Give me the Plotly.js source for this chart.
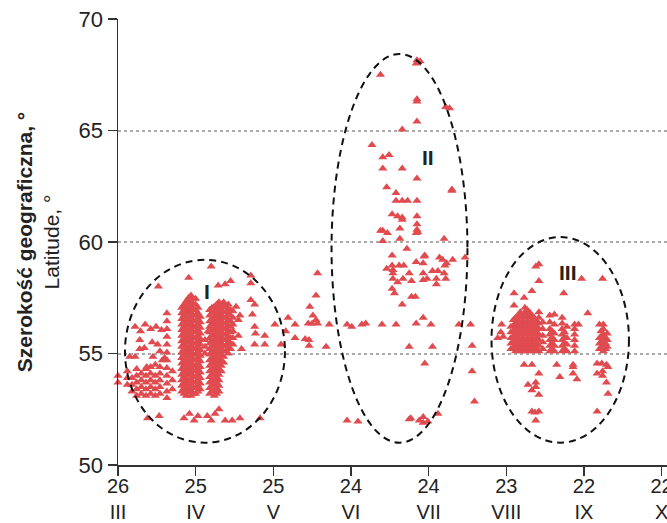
<!DOCTYPE html>
<html><head><meta charset="utf-8">
<script src="https://cdn.plot.ly/plotly-3.0.1.min.js"></script>
<style>html,body{margin:0;padding:0;background:#fff}#chart{width:667px;height:523px}</style>
</head><body><div id="chart"></div>
<script>
// x axis: month positions (III..X) with number labels
const tickPos = [3, 4, 5, 6, 7, 8, 9, 10];
const tickNum = ["26", "25", "25", "24", "24", "23", "22", "22"];
const tickMonth = ["III", "IV", "V", "VI", "VII", "VIII", "IX", "X"];
const latTicks = [50, 55, 60, 65, 70];

// Cluster I: dense columns [x, [latitudes]]
const colsI = [
  [3.12, [53.6, 53.9, 54.2]],
  [3.18, [53.3, 53.6, 53.9]],
  [3.24, [53.1, 53.4, 53.7, 54.0, 54.3]],
  [3.30, [53.2, 53.5, 53.8, 54.1]],
  [3.36, [53.1, 53.4, 53.7, 54.0, 54.3]],
  [3.42, [53.2, 53.5, 53.8, 54.1, 54.4]],
  [3.48, [53.1, 53.4, 53.7, 54.0]],
  [3.54, [53.2, 53.5, 53.8, 54.1, 54.4]],
  [3.63, [56.8, 56.45, 56.1, 55.75, 55.4, 55.05, 54.7, 54.35, 54.0, 53.65, 53.3, 53.0]],
  [3.70, [53.4, 53.8, 54.2]],
  [3.82, [53.3, 53.55, 53.8, 54.05, 54.3, 54.55, 54.8, 55.05, 55.3, 55.55, 55.8, 56.05, 56.3, 56.55, 56.8, 57.05]],
  [3.85, [53.2, 53.45, 53.7, 53.95, 54.2, 54.45, 54.7, 54.95, 55.2, 55.45, 55.7, 55.95, 56.2, 56.45, 56.7, 56.95, 57.2]],
  [3.88, [53.1, 53.35, 53.6, 53.85, 54.1, 54.35, 54.6, 54.85, 55.1, 55.35, 55.6, 55.85, 56.1, 56.35, 56.6, 56.85, 57.1, 57.35]],
  [3.91, [53.25, 53.5, 53.75, 54.0, 54.25, 54.5, 54.75, 55.0, 55.25, 55.5, 55.75, 56.0, 56.25, 56.5, 56.75, 57.0, 57.25, 57.5]],
  [3.94, [53.1, 53.35, 53.6, 53.85, 54.1, 54.35, 54.6, 54.85, 55.1, 55.35, 55.6, 55.85, 56.1, 56.35, 56.6, 56.85, 57.1, 57.35, 57.6]],
  [3.97, [53.2, 53.45, 53.7, 53.95, 54.2, 54.45, 54.7, 54.95, 55.2, 55.45, 55.7, 55.95, 56.2, 56.45, 56.7, 56.95, 57.2, 57.45]],
  [4.00, [53.2, 53.45, 53.7, 53.95, 54.2, 54.45, 54.7, 54.95, 55.2, 55.45, 55.7, 55.95, 56.2, 56.45, 56.7, 56.95, 57.2, 57.45]],
  [4.03, [53.3, 53.55, 53.8, 54.05, 54.3, 54.55, 54.8, 55.05, 55.3, 55.55, 55.8, 56.05, 56.3, 56.55, 56.8, 57.05]],
  [4.06, [53.4, 53.65, 53.9, 54.15, 54.4, 54.65, 54.9, 55.15, 55.4, 55.65, 55.9, 56.15, 56.4, 56.65]],
  [4.12, [55.0, 55.3, 55.6]],
  [4.18, [53.2, 53.45, 53.7, 53.95, 54.2, 54.45, 54.7, 54.95, 55.2, 55.45, 55.7, 55.95, 56.2, 56.45, 56.7, 56.95]],
  [4.21, [53.3, 53.55, 53.8, 54.05, 54.3, 54.55, 54.8, 55.05, 55.3, 55.55, 55.8, 56.05, 56.3, 56.55, 56.8, 57.05]],
  [4.24, [53.1, 53.35, 53.6, 53.85, 54.1, 54.35, 54.6, 54.85, 55.1, 55.35, 55.6, 55.85, 56.1, 56.35, 56.6, 56.85, 57.1]],
  [4.27, [53.2, 53.45, 53.7, 53.95, 54.2, 54.45, 54.7, 54.95, 55.2, 55.45, 55.7, 55.95, 56.2, 56.45, 56.7, 56.95, 57.2]],
  [4.30, [53.3, 53.55, 53.8, 54.05, 54.3, 54.55, 54.8, 55.05, 55.3, 55.55, 55.8, 56.05, 56.3, 56.55, 56.8, 57.05, 57.3]],
  [4.33, [54.2, 54.45, 54.7, 54.95, 55.2, 55.45, 55.7, 55.95, 56.2, 56.45, 56.7, 56.95, 57.2]],
  [4.36, [54.6, 54.85, 55.1, 55.35, 55.6, 55.85, 56.1, 56.35, 56.6, 56.85, 57.1, 57.3]],
  [4.39, [55.1, 55.35, 55.6, 55.85, 56.1, 56.35, 56.6, 56.85, 57.1]],
  [4.42, [55.0, 55.25, 55.5, 55.75, 56.0, 56.25, 56.5, 56.75, 57.0, 57.2]],
  [4.45, [55.2, 55.45, 55.7, 55.95, 56.2, 56.45, 56.7, 56.95]],
  [4.48, [55.4, 55.7, 56.0, 56.3, 56.6, 56.9]]
];
const pointsI = [
  [3.0, 54.0], [3.0, 53.7],
  [3.35, 56.3], [3.42, 56.1], [3.49, 56.2], [3.56, 56.05], [3.29, 56.0], [3.22, 56.2],
  [3.28, 55.6], [3.44, 55.5], [3.51, 55.4], [3.34, 55.25], [3.54, 55.1], [3.15, 54.85],
  [3.22, 54.85], [3.45, 54.85], [3.6, 54.8], [3.37, 54.4], [3.48, 54.5], [3.28, 55.2], [3.57, 54.7],
  [3.38, 52.1], [3.53, 52.2],
  [3.52, 58.0], [3.91, 58.4], [4.2, 58.9], [4.29, 58.05], [4.38, 58.1], [4.45, 58.25],
  [4.71, 58.5], [4.71, 58.15],
  [4.71, 57.4], [4.76, 57.2], [4.73, 56.75], [4.76, 56.2], [4.77, 55.9], [4.76, 55.4],
  [4.57, 56.7], [4.55, 56.5], [4.59, 55.2], [4.89, 55.8], [4.89, 55.4], [5.02, 56.3],
  [5.1, 55.4], [5.19, 56.6], [5.16, 56.0], [5.28, 55.7], [5.28, 56.3], [4.16, 56.0],
  [4.52, 57.1], [4.55, 55.8],
  [3.85, 52.1], [3.92, 52.3], [3.98, 52.0], [4.03, 52.2], [4.15, 52.2], [4.2, 52.0],
  [4.25, 52.3], [4.3, 52.5], [4.38, 52.0], [4.47, 52.0], [4.57, 52.1], [4.83, 52.1]
];
// Points between clusters I and II and below cluster II
const pointsMid = [
  [5.57, 58.6], [5.55, 57.6], [5.47, 57.1], [5.51, 56.7], [5.55, 56.5], [5.45, 56.35],
  [5.5, 56.35], [5.57, 56.35], [5.72, 56.3], [5.95, 56.3], [6.01, 56.2], [6.14, 56.3],
  [6.19, 56.35], [6.4, 56.3], [6.58, 56.3], [6.84, 56.35], [6.93, 56.6], [7.03, 56.3],
  [7.39, 56.3], [7.54, 56.3], [5.41, 55.65], [5.46, 55.6], [5.46, 55.35], [5.68, 55.3],
  [6.75, 55.3], [7.05, 55.3], [7.56, 55.35], [6.95, 54.55], [7.56, 54.2], [7.59, 52.85],
  [5.95, 52.0], [6.09, 51.95], [6.75, 52.05], [6.77, 52.1], [6.93, 52.15], [6.93, 51.9],
  [6.99, 51.95], [7.12, 52.3], [6.88, 52.0]
];
// Cluster II
const pointsII = [
  [6.85, 68.15], [6.89, 68.1], [6.84, 68.0], [6.38, 67.5], [6.85, 66.4], [6.85, 66.3],
  [7.22, 66.05], [7.27, 66.0], [6.85, 65.4], [6.66, 65.05], [6.27, 64.35], [6.41, 63.8],
  [6.49, 63.9], [6.41, 63.3], [6.66, 63.3], [6.85, 62.85], [7.3, 62.35], [7.3, 62.3],
  [6.46, 62.45], [6.58, 62.2], [6.58, 61.85], [6.66, 61.85], [6.73, 61.85], [6.85, 61.85],
  [6.53, 61.25], [6.6, 61.15], [6.66, 61.1], [6.66, 61.0], [6.85, 61.15], [6.85, 60.8],
  [6.85, 60.55], [6.84, 60.4], [6.86, 60.45], [6.38, 60.5], [6.41, 60.5], [6.47, 60.4],
  [6.63, 60.6], [6.41, 60.05], [6.63, 60.15], [7.2, 60.15], [6.72, 59.7], [6.53, 59.4],
  [6.95, 59.4], [7.14, 59.3], [7.18, 59.2], [7.21, 58.95], [7.23, 59.05], [7.31, 59.2],
  [7.47, 59.3], [6.46, 58.8], [6.53, 58.95], [6.54, 58.75], [6.62, 58.95], [6.68, 58.95],
  [6.84, 59.1], [6.93, 59.05], [6.94, 59.35], [6.54, 58.6], [6.75, 58.6], [6.93, 58.6],
  [6.93, 58.3], [7.05, 58.7], [7.12, 58.7], [7.2, 58.6], [6.54, 58.35], [6.67, 58.35],
  [6.78, 58.25], [6.98, 58.35], [7.1, 58.35], [7.22, 58.35], [7.1, 58.1], [6.6, 58.2],
  [6.53, 57.9], [6.56, 57.7], [6.78, 57.55], [6.83, 57.55], [6.66, 57.2]
];
// Cluster III: dense columns and scattered points
const colsIII = [
  [8.06, [55.2, 55.45, 55.7, 55.95, 56.2]],
  [8.09, [55.25, 55.5, 55.75, 56.0, 56.25, 56.5]],
  [8.12, [55.1, 55.35, 55.6, 55.85, 56.1, 56.35, 56.6]],
  [8.15, [55.2, 55.45, 55.7, 55.95, 56.2, 56.45, 56.7]],
  [8.18, [55.1, 55.35, 55.6, 55.85, 56.1, 56.35, 56.6, 56.85]],
  [8.21, [55.2, 55.45, 55.7, 55.95, 56.2, 56.45, 56.7]],
  [8.24, [55.1, 55.35, 55.6, 55.85, 56.1, 56.35, 56.6, 56.85, 57.05]],
  [8.27, [55.2, 55.45, 55.7, 55.95, 56.2, 56.45, 56.7, 56.95]],
  [8.30, [55.1, 55.35, 55.6, 55.85, 56.1, 56.35, 56.6, 56.85]],
  [8.33, [55.2, 55.45, 55.7, 55.95, 56.2, 56.45, 56.7]],
  [8.36, [55.1, 55.35, 55.6, 55.85, 56.1, 56.35, 56.6]],
  [8.39, [55.2, 55.45, 55.7, 55.95, 56.2, 56.45]],
  [8.42, [55.1, 55.35, 55.6, 55.85, 56.1, 56.35, 56.6, 56.85]],
  [8.47, [55.2, 55.5, 55.8, 56.1, 56.4]],
  [8.56, [55.1, 55.35, 55.6, 55.85, 56.1, 56.4, 56.7]],
  [8.59, [55.2, 55.45, 55.7, 56.0]],
  [8.62, [55.1, 55.35, 55.6, 55.9, 56.3, 56.75]],
  [8.72, [55.1, 55.35, 55.6, 55.85, 56.1, 56.35, 56.6]],
  [8.75, [55.2, 55.45, 55.7, 55.95]],
  [8.78, [55.1, 55.4, 55.7, 56.2]],
  [8.88, [55.1, 55.35, 55.6, 55.85, 56.1, 56.3]],
  [9.20, [55.2, 55.45, 55.7, 56.3]],
  [9.22, [55.25, 55.5, 55.75, 56.0]],
  [9.25, [55.1, 55.35, 55.6, 55.85, 56.1, 56.3]],
  [9.28, [55.2, 55.45, 55.7]],
  [9.30, [55.3, 55.6, 55.9]]
];
const pointsIII = [
  [8.38, 58.9], [8.42, 59.0], [8.97, 58.35], [9.24, 58.35], [8.42, 58.25], [8.1, 57.7],
  [8.33, 57.8], [8.23, 57.5], [8.74, 57.7], [8.1, 57.15], [9.05, 56.8], [7.94, 56.3],
  [7.96, 55.75], [7.89, 55.7], [7.93, 55.95], [8.93, 56.3],
  [8.23, 54.5], [8.33, 54.5], [8.42, 54.1], [8.65, 54.5], [8.86, 54.5], [8.86, 54.4],
  [8.69, 53.95], [8.86, 54.1], [8.91, 53.85], [9.17, 54.55], [9.23, 54.55], [9.29, 54.5],
  [9.31, 54.4], [9.17, 54.1], [9.24, 54.2], [9.24, 54.0], [9.29, 53.7], [9.31, 53.2],
  [8.28, 53.6], [8.33, 53.35], [8.38, 53.7], [8.38, 53.5], [8.42, 53.15], [8.33, 52.4],
  [8.37, 52.35], [8.42, 52.4], [8.38, 52.0], [9.17, 52.4]
];
// Ellipse bounds [x0, x1, y0, y1] and labels
const ellipseBounds = [[3.09, 5.15, 51.0, 59.2], [5.75, 7.5, 51.0, 68.43], [7.81, 9.58, 51.0, 60.22]];
const groupLabels = ["I", "II", "III"];
const labelPos = [[4.15, 57.8], [6.99, 63.77], [8.8, 58.65]];

const xs = [], ys = [];
function addCols(cols) { cols.forEach(c => c[1].forEach(v => { xs.push(c[0]); ys.push(v); })); }
function addPts(p) { p.forEach(q => { xs.push(q[0]); ys.push(q[1]); }); }
addCols(colsI); addPts(pointsI); addPts(pointsMid); addPts(pointsII); addCols(colsIII); addPts(pointsIII);

const font = "Liberation Sans, Arial, sans-serif";
const data = [{
  type: "scatter", mode: "markers", x: xs, y: ys,
  marker: {symbol: "triangle-up", size: 8, color: "#e04b4f", line: {width: 0}},
  hoverinfo: "skip", showlegend: false, cliponaxis: false
}];
const shapes = ellipseBounds.map(b => ({
  type: "circle", xref: "x", yref: "y", x0: b[0], x1: b[1], y0: b[2], y1: b[3],
  line: {color: "#111", width: 2, dash: "7px,5px"}
}));
const annotations = groupLabels.map((t, i) => ({
  x: labelPos[i][0], y: labelPos[i][1], xref: "x", yref: "y", text: "<b>" + t + "</b>",
  showarrow: false, font: {family: font, size: 21, color: "#222"}
}));
const layout = {
  width: 667, height: 523,
  margin: {l: 118, r: 0, t: 19, b: 58, pad: 0},
  paper_bgcolor: "#fff", plot_bgcolor: "#fff",
  showlegend: false,
  xaxis: {
    range: [3, 10.07], tickvals: tickPos,
    ticktext: tickPos.map((p, i) => tickNum[i] + "<br>" + tickMonth[i]),
    ticks: "outside", ticklen: 9, tickwidth: 1.2, tickcolor: "#333",
    showline: true, linecolor: "#333", linewidth: 1.5,
    showgrid: false, zeroline: false,
    ticklabeloverflow: "allow", ticklabelstandoff: -7,
    tickfont: {family: font, size: 20, color: "#222"}
  },
  yaxis: {
    range: [50, 70], tickvals: latTicks,
    ticks: "outside", ticklen: 9, tickwidth: 1.2, tickcolor: "#333",
    showline: true, linecolor: "#333", linewidth: 1.5,
    showgrid: true, gridcolor: "#aaa", gridwidth: 2, griddash: "dot",
    zeroline: false,
    tickfont: {family: font, size: 22, color: "#222"},
    title: {text: "<b>Szerokość geograficzna, °</b><br>Latitude, °", standoff: 13,
            font: {family: font, size: 21, color: "#222"}}
  },
  shapes: shapes, annotations: annotations
};
Plotly.newPlot("chart", data, layout, {staticPlot: true, displayModeBar: false});
</script></body></html>
